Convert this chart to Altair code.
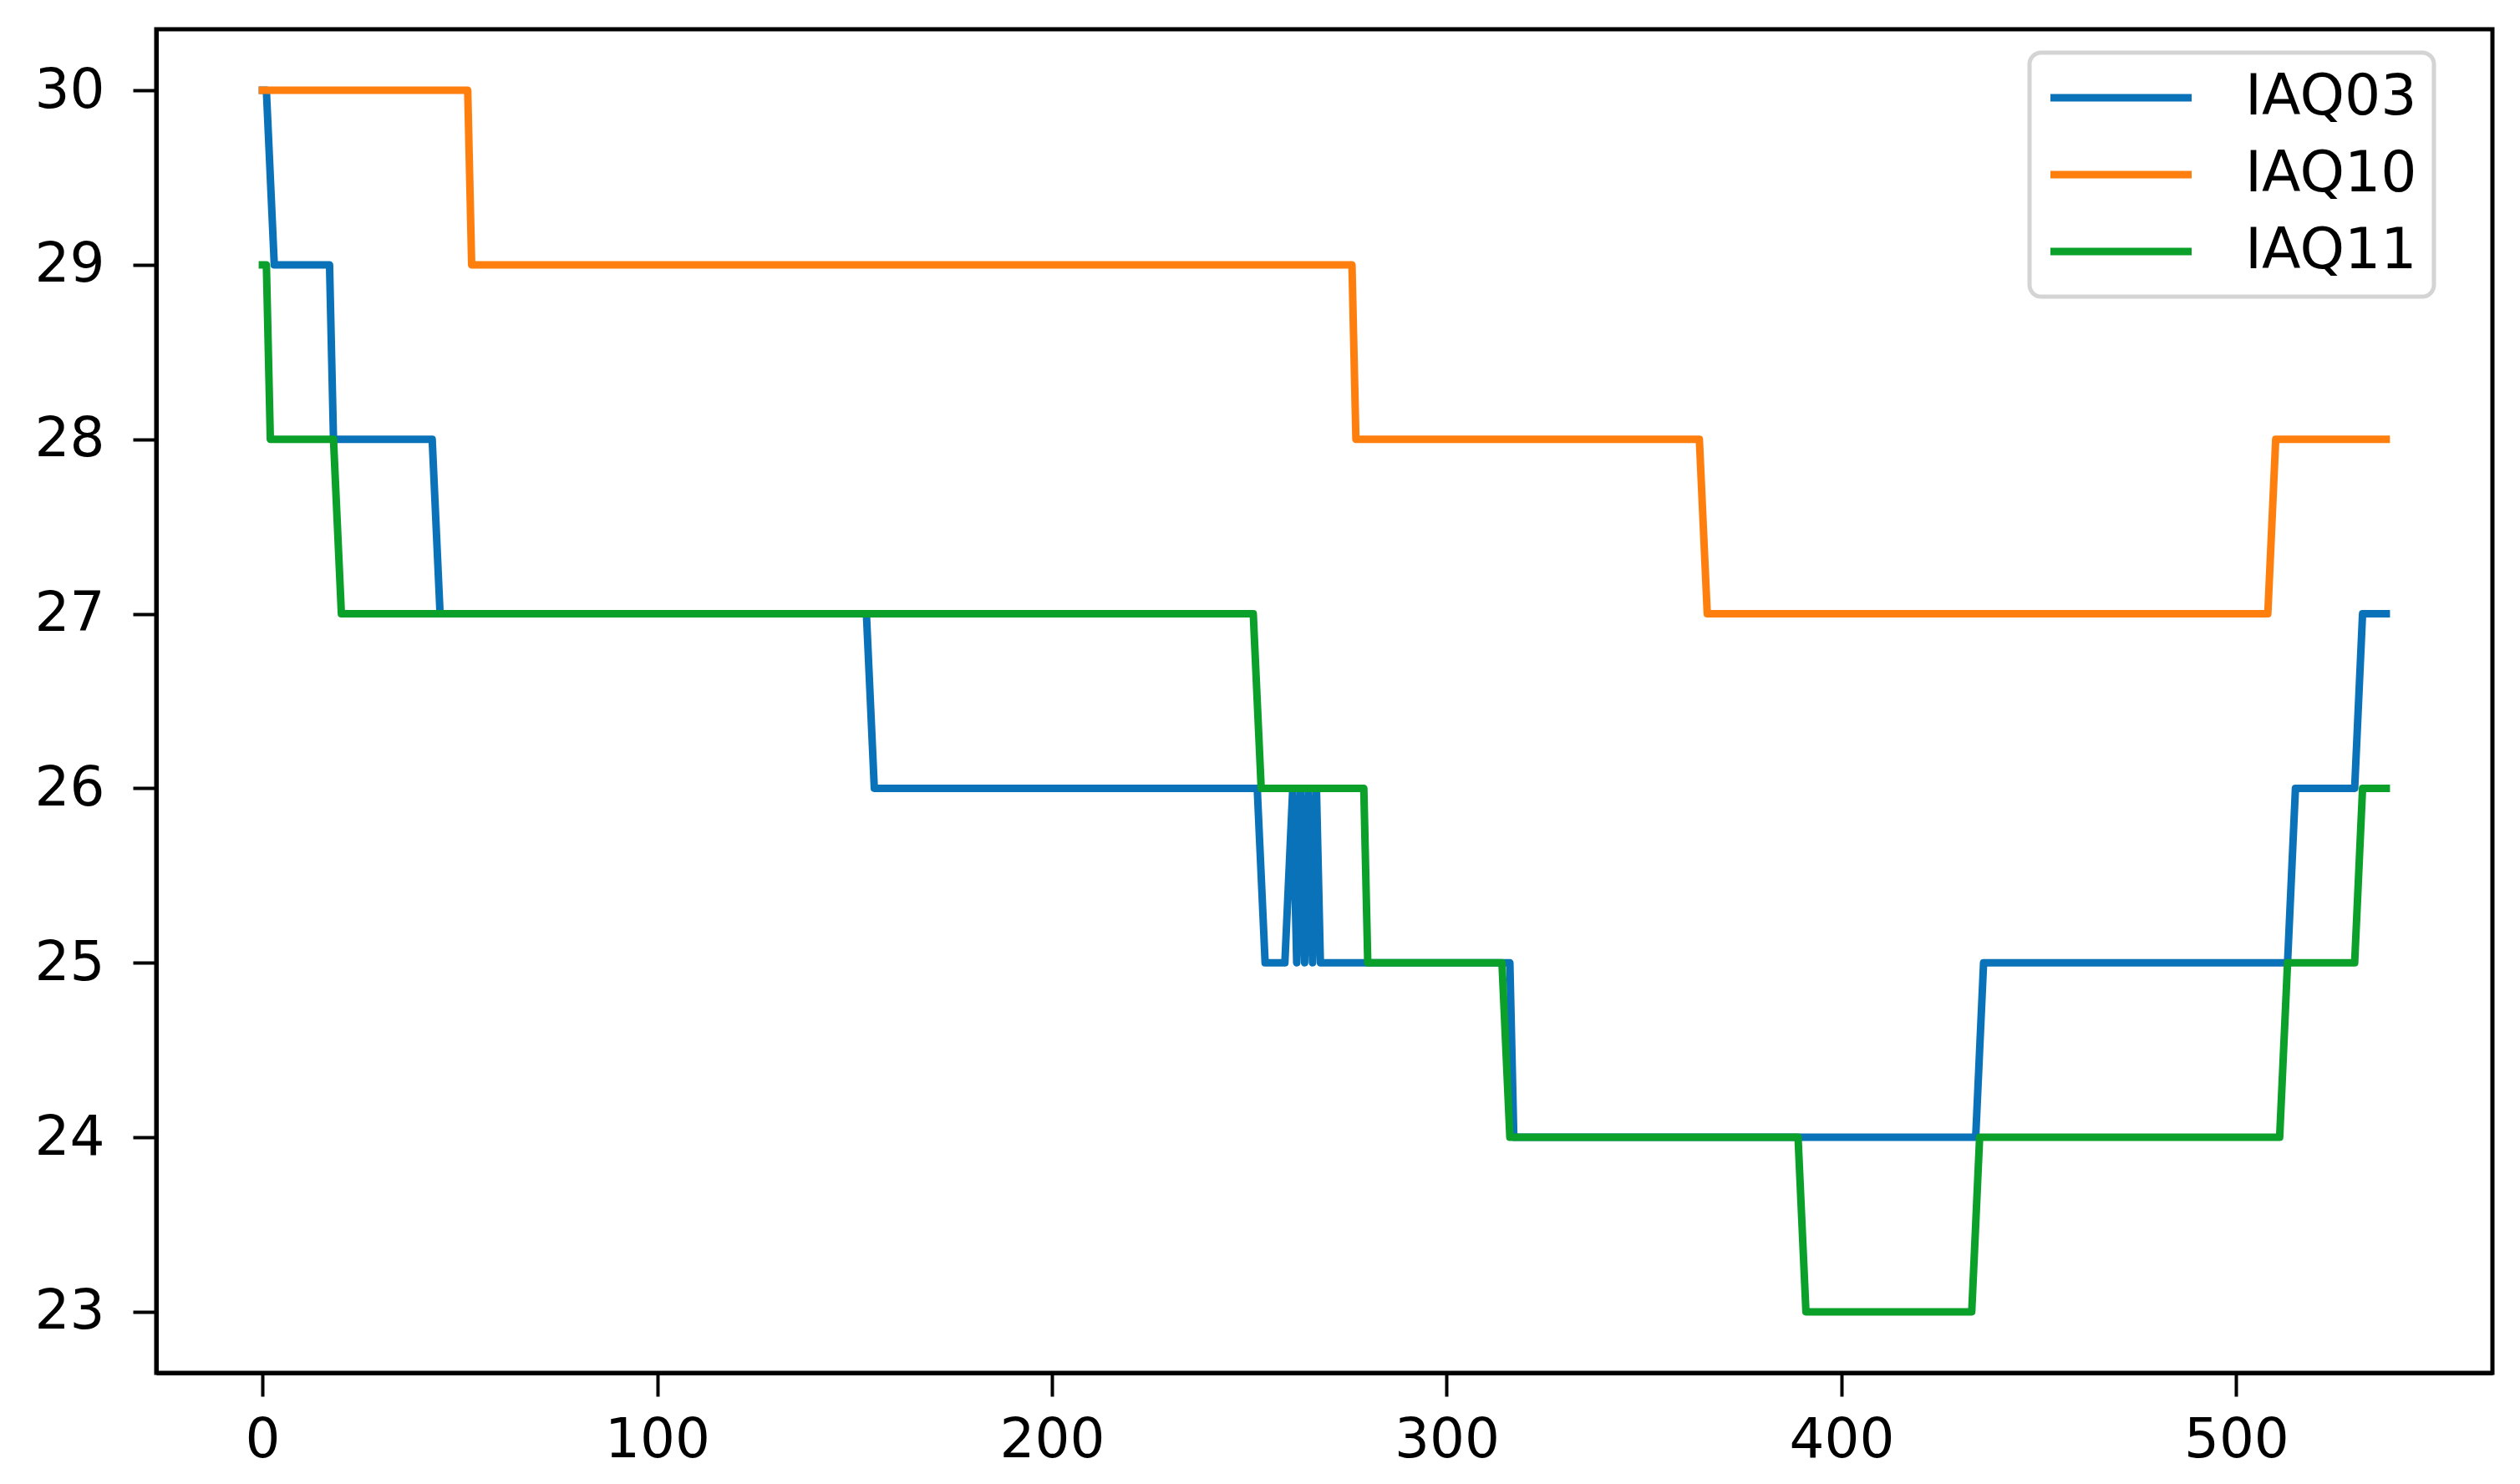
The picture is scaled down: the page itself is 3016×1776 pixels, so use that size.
import altair as alt
import pandas as pd

series_names = ["IAQ03", "IAQ10", "IAQ11"]
series_colors = ["#0a72b8", "#ff7f0e", "#0aa02a"]

# IAQ03 (blue) step vertices
iaq03_x = [0, 1, 3, 17, 18, 43, 45, 153, 155, 252, 254, 259, 261, 262, 263, 264, 265, 266, 267, 268,
           316, 317, 434, 436, 513, 515, 530, 532, 538]
iaq03_y = [30, 30, 29, 29, 28, 28, 27, 27, 26, 26, 25, 25, 26, 25, 26, 25, 26, 25, 26, 25,
           25, 24, 24, 25, 25, 26, 26, 27, 27]

# IAQ10 (orange)
iaq10_x = [0, 52, 53, 276, 277, 364, 366, 508, 510, 538]
iaq10_y = [30, 30, 29, 29, 28, 28, 27, 27, 28, 28]

# IAQ11 (green)
iaq11_x = [0, 1, 2, 18, 20, 251, 253, 279, 280, 314, 316, 389, 391, 433, 435, 511, 513, 530, 532, 538]
iaq11_y = [29, 29, 28, 28, 27, 27, 26, 26, 25, 25, 24, 24, 23, 23, 24, 24, 25, 25, 26, 26]

x_ticks = [0, 100, 200, 300, 400, 500]
y_ticks = [23, 24, 25, 26, 27, 28, 29, 30]

rows = []
for name, xs, ys in [("IAQ03", iaq03_x, iaq03_y), ("IAQ10", iaq10_x, iaq10_y), ("IAQ11", iaq11_x, iaq11_y)]:
    for i, (x, y) in enumerate(zip(xs, ys)):
        rows.append({"series": name, "t": x, "value": y, "idx": i})
df = pd.DataFrame(rows)

FONT = "DejaVu Sans"

chart = alt.Chart(df).mark_line(strokeWidth=9, strokeJoin="round", strokeCap="square").encode(
    x=alt.X("t:Q",
            scale=alt.Scale(domain=[-26.9, 564.9], nice=False, zero=False),
            axis=alt.Axis(values=x_ticks, title=None, format="d", labelPadding=20)),
    y=alt.Y("value:Q",
            scale=alt.Scale(domain=[22.65, 30.35], nice=False, zero=False),
            axis=alt.Axis(values=y_ticks, title=None, format="d", labelPadding=34)),
    color=alt.Color("series:N",
                    scale=alt.Scale(domain=series_names, range=series_colors),
                    legend=alt.Legend(title=None, orient="none", legendX=2242, legendY=28,
                                      symbolType="M-1.16,0H5.6", symbolSize=2500,
                                      symbolStrokeWidth=9, labelFontSize=68, labelFont=FONT,
                                      labelColor="black", labelOffset=170, rowPadding=24,
                                      padding=20, strokeColor="#d4d4d4", fillColor="white",
                                      cornerRadius=14, labelLimit=600)),
    order=alt.Order("idx:Q"),
).properties(
    width=2796,
    height=1608,
    padding={"left": 179, "top": 27, "right": 25, "bottom": 125},
    autosize=alt.AutoSizeParams(type="none"),
).configure_view(
    stroke="black", strokeWidth=5
).configure_axis(
    grid=False,
    labelFont=FONT,
    labelFontSize=66,
    labelColor="black",
    tickColor="black",
    tickWidth=4,
    tickSize=28,
    domainColor="black",
    domainWidth=5,
).configure_legend(
    strokeWidth=5
)

chart.save("out.html", embed_options={"renderer": "svg", "actions": False})
